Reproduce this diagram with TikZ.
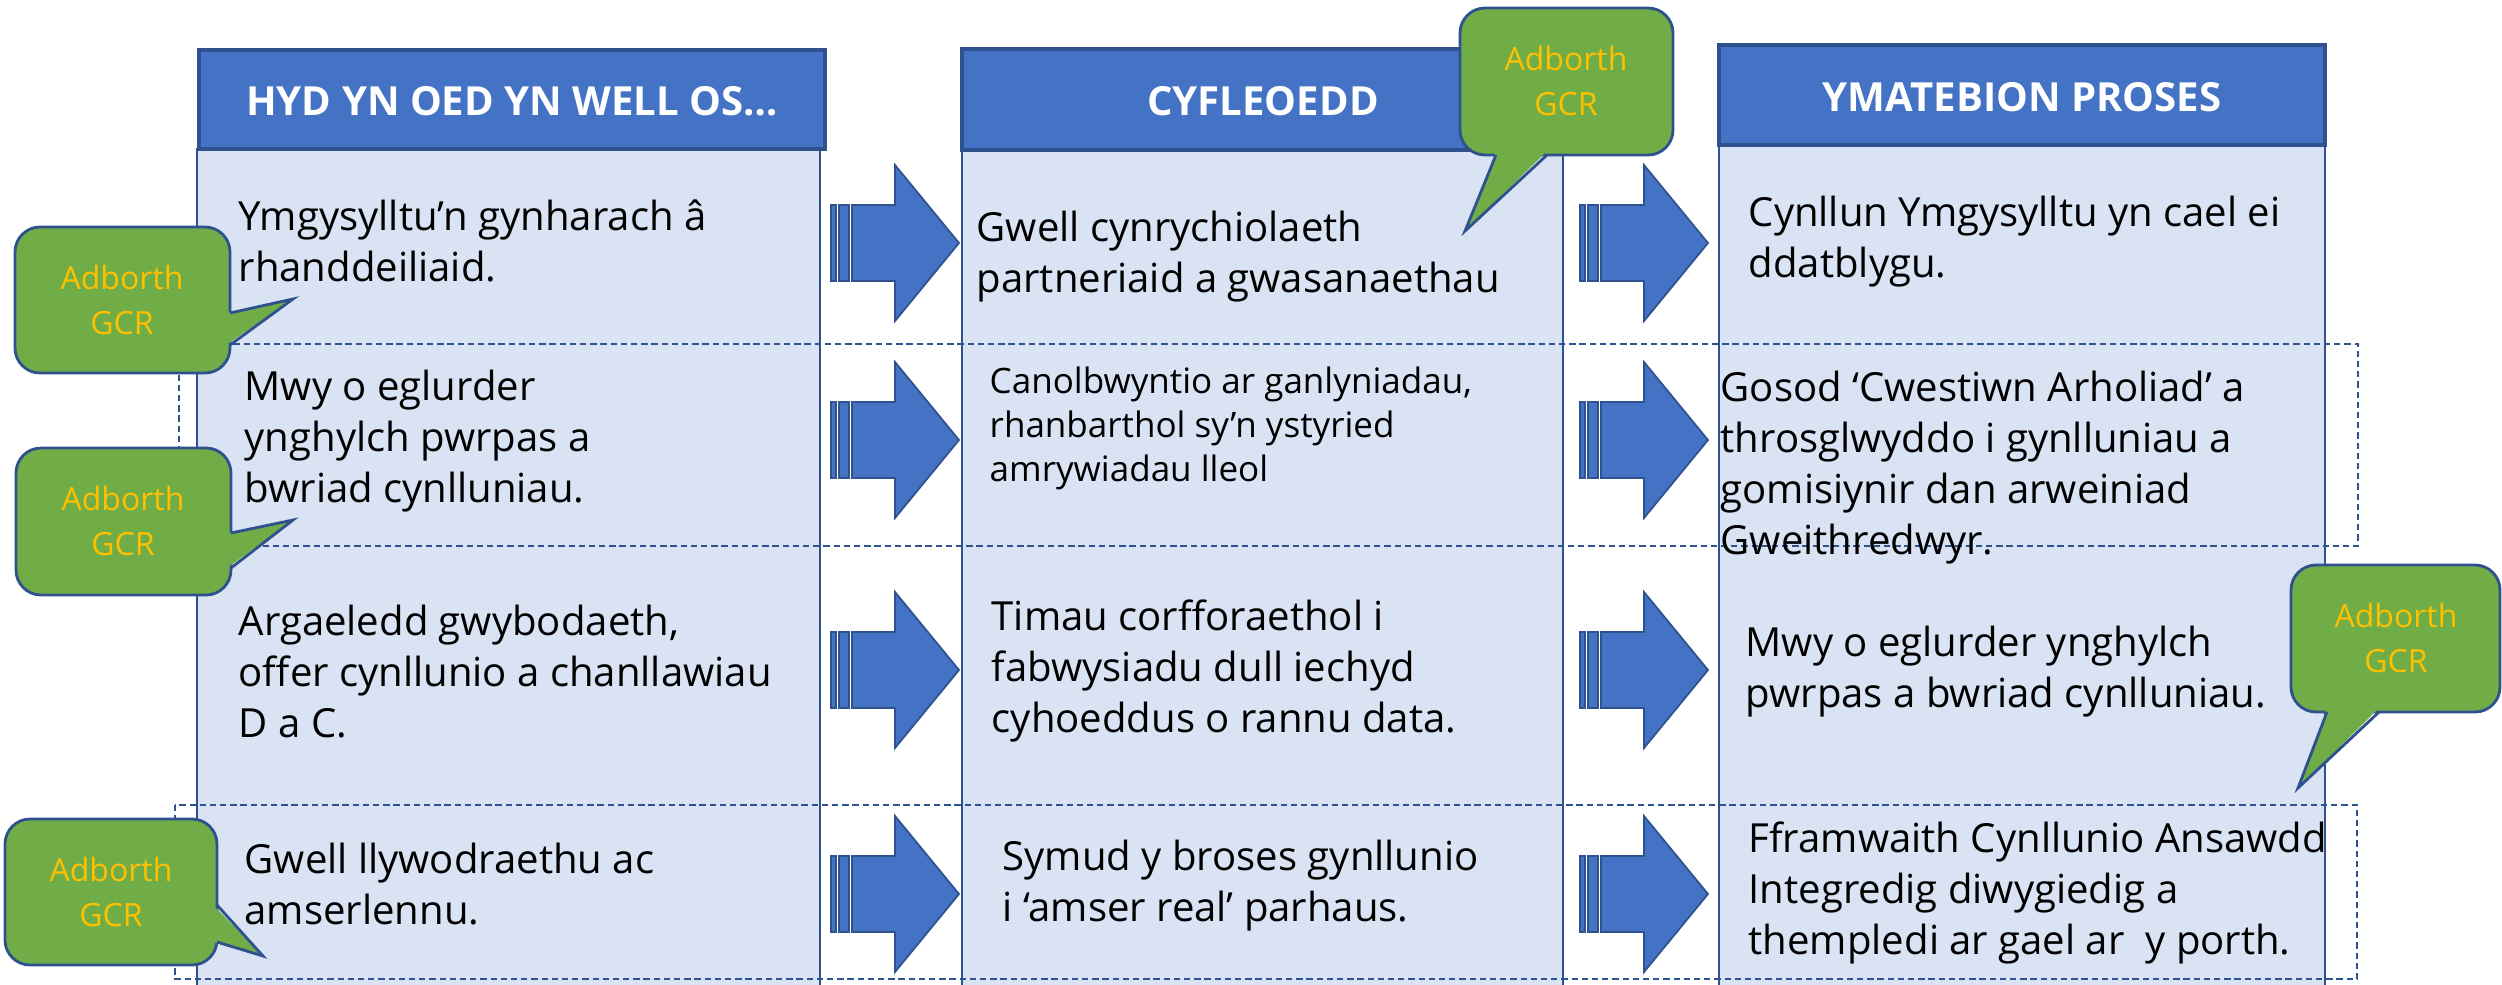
\documentclass[tikz,border=0pt]{standalone}
\usepackage{fontspec}
\setmainfont{Open Sans}
\definecolor{headblue}{HTML}{4472C4}
\definecolor{lineblue}{HTML}{2F528F}
\definecolor{paleblue}{HTML}{DAE3F3}
\definecolor{gcrgreen}{HTML}{70AD47}
\definecolor{gcrgold}{HTML}{FFC000}

\begin{document}
\begin{tikzpicture}[x=0.01cm, y=-0.01cm,
    header/.style={fill=headblue, draw=lineblue, line width=1pt},
    colbody/.style={fill=paleblue, draw=lineblue, line width=0.6pt},
    rowbox/.style={draw=lineblue, line width=0.6pt, dash pattern=on 1.8pt off 1.1pt},
    blockarrow/.style={fill=headblue, draw=lineblue, line width=0.5pt},
    bubble/.style={fill=gcrgreen, draw=lineblue, line width=0.8pt, rounded corners=0.25cm},
    tail/.style={draw=lineblue, line width=0.8pt},
    headtext/.style={text=white, inner sep=0, anchor=base, font=\fontsize{11.4pt}{14pt}\selectfont\bfseries},
    celltext/.style={align=left, inner sep=0, anchor=north west, font=\fontsize{11.4pt}{14.5pt}\selectfont},
    smalltext/.style={celltext, font=\fontsize{9.96pt}{12.5pt}\selectfont},
    gcrtext/.style={align=center, text=gcrgold, inner sep=0, font=\fontsize{9.1pt}{12.8pt}\selectfont}]
    \useasboundingbox (0,0) rectangle (2502,984);
    \clip (0,0) rectangle (2502,984);

    % three columns
    \draw[colbody] (197,149) rectangle (820,1000);
    \draw[header] (199,50) rectangle (825,149);
    \draw[colbody] (962,150) rectangle (1563,1000);
    \draw[header] (962,49) rectangle (1563,150);
    \draw[colbody] (1719,145) rectangle (2325,1000);
    \draw[header] (1719,45) rectangle (2325,145);

    \node[headtext] (hyd) at (512,115) {HYD YN OED YN WELL OS…};
    \node[headtext] (cyfle) at (1263,115) {CYFLEOEDD};
    \node[headtext] (ymateb) at (2022,111) {YMATEBION PROSES};

    % striped block arrows between the columns
    \foreach \cy in {243,440,670,894}{
      \foreach \ax in {831,1580}{
        \begin{scope}[shift={(\ax,\cy)}]
          \filldraw[blockarrow] (0,-38) rectangle (5,38);
          \filldraw[blockarrow] (8,-38) rectangle (18,38);
          \filldraw[blockarrow] (21,-38) -- (64,-38) -- (64,-78) -- (128,0) -- (64,78) -- (64,38) -- (21,38) -- cycle;
        \end{scope}
      }
    }

    \draw[rowbox] (179,344) rectangle (2358,546);
    \draw[rowbox] (175,805) rectangle (2357,979);

    \node[celltext] (hyd1) at (238,194) {\strut Ymgysylltu’n gynharach â\\rhanddeiliaid.};
    \node[celltext] (hyd2) at (244,364) {\strut Mwy o eglurder\\ynghylch pwrpas a\\bwriad cynlluniau.};
    \node[celltext] (hyd3) at (238,599) {\strut Argaeledd gwybodaeth,\\offer cynllunio a chanllawiau\\D a C.};
    \node[celltext] (hyd4) at (244,837) {\strut Gwell llywodraethu ac\\amserlennu.};

    \node[celltext] (cyf1) at (976,205) {\strut Gwell cynrychiolaeth\\partneriaid a gwasanaethau};
    \node[smalltext] (cyf2) at (989,362) {\strut Canolbwyntio ar ganlyniadau,\\rhanbarthol sy’n ystyried\\amrywiadau lleol};
    \node[celltext] (cyf3) at (991,594) {\strut Timau corfforaethol i\\fabwysiadu dull iechyd\\cyhoeddus o rannu data.};
    \node[celltext] (cyf4) at (1002,834) {\strut Symud y broses gynllunio\\i ‘amser real’ parhaus.};

    \node[celltext] (yma1) at (1748,190) {\strut Cynllun Ymgysylltu yn cael ei\\ddatblygu.};
    \node[celltext] (yma2) at (1720,365) {\strut Gosod ‘Cwestiwn Arholiad’ a\\throsglwyddo i gynlluniau a\\gomisiynir dan arweiniad\\Gweithredwyr.};
    \node[celltext] (yma3) at (1745,620) {\strut Mwy o eglurder ynghylch\\pwrpas a bwriad cynlluniau.};
    \node[celltext] (yma4) at (1748,816) {\strut Fframwaith Cynllunio Ansawdd\\Integredig diwygiedig a\\thempledi ar gael ar \ y porth.};

    % GCR feedback callouts
    \draw[bubble] (15,227) rectangle (230,373);
    \fill[gcrgreen] (226,313) -- (293,299) -- (226,345) -- cycle;
    \draw[tail] (230,313) -- (293,299) -- (230,345);
    \node[gcrtext] (gcr1) at (122,300) {Adborth\\GCR};

    \draw[bubble] (16,448) rectangle (231,595);
    \fill[gcrgreen] (227,533) -- (293,520) -- (227,568) -- cycle;
    \draw[tail] (231,533) -- (293,520) -- (231,568);
    \node[gcrtext] (gcr2) at (123,521) {Adborth\\GCR};

    \draw[bubble] (5,819) rectangle (217,965);
    \fill[gcrgreen] (213,905) -- (263,956) -- (213,942) -- cycle;
    \draw[tail] (217,905) -- (263,956) -- (217,942);
    \node[gcrtext] (gcr3) at (111,892) {Adborth\\GCR};

    \draw[bubble] (1460,8) rectangle (1673,155);
    \fill[gcrgreen] (1496,151) -- (1465,231) -- (1547,151) -- cycle;
    \draw[tail] (1496,155) -- (1465,231) -- (1547,155);
    \node[gcrtext] (gcr4) at (1566,81) {Adborth\\GCR};

    \draw[bubble] (2291,565) rectangle (2500,712);
    \fill[gcrgreen] (2327,708) -- (2298,788) -- (2379,708) -- cycle;
    \draw[tail] (2327,712) -- (2298,788) -- (2379,712);
    \node[gcrtext] (gcr5) at (2396,638) {Adborth\\GCR};
\end{tikzpicture}
\end{document}
